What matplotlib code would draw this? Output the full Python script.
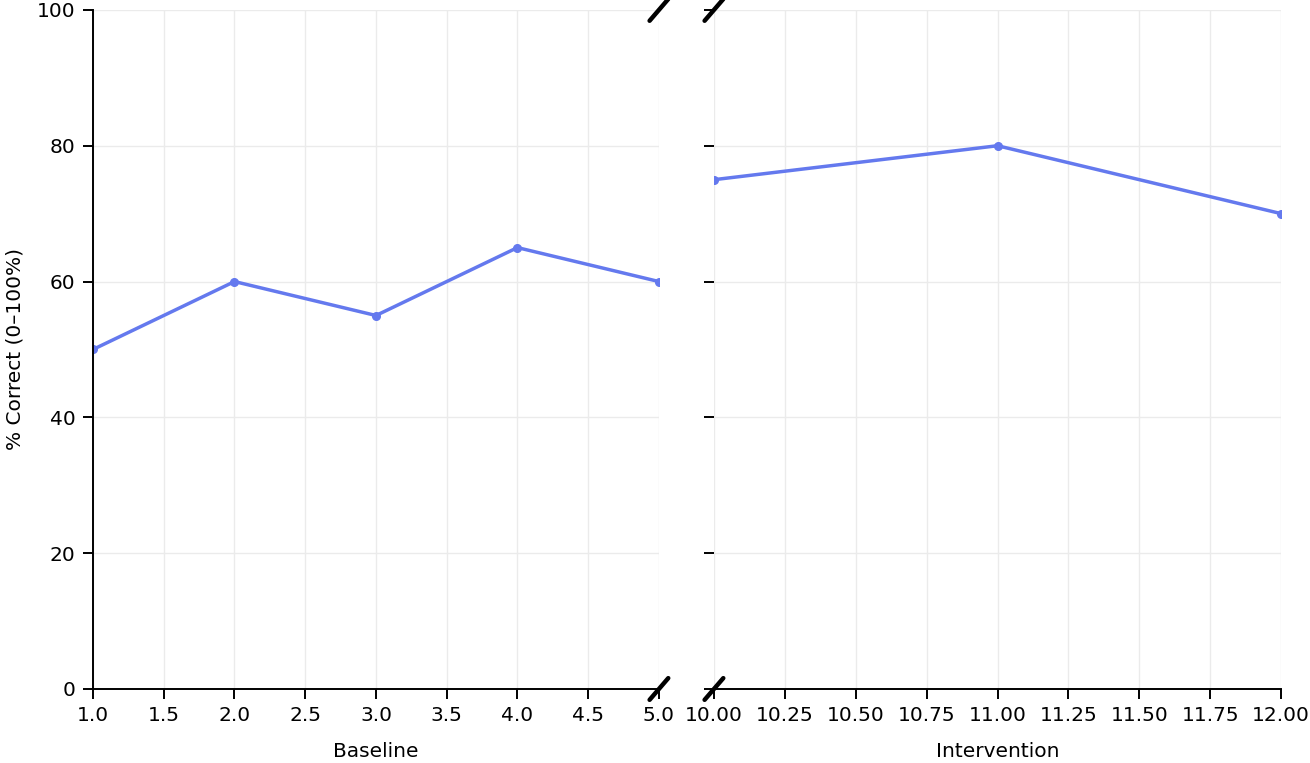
import matplotlib
matplotlib.use("Agg")
import matplotlib.pyplot as plt
import numpy as np

# baseline and intervention sessions
base_x = [1, 2, 3, 4, 5]
base_y = [50, 60, 55, 65, 60]
int_x = [10, 11, 12]
int_y = [75, 80, 70]

line_col = "#6479ee"
grid_col = "#ebebeb"

plt.rcParams["font.family"] = "DejaVu Sans"
plt.rcParams["font.size"] = 14.5

fig = plt.figure(figsize=(13.1, 7.63), dpi=100)
ax1 = fig.add_axes([0.071, 0.097, 0.432, 0.890])
ax2 = fig.add_axes([0.545, 0.097, 0.433, 0.890])

ax1.plot(base_x, base_y, color=line_col, lw=2.5, marker="o", ms=5.5)
ax2.plot(int_x, int_y, color=line_col, lw=2.5, marker="o", ms=5.5)

ax1.set_xlim(1, 5)
ax2.set_xlim(10, 12)
for ax in (ax1, ax2):
    ax.set_ylim(0, 100)
    ax.set_yticks([0, 20, 40, 60, 80, 100])
    ax.grid(True, color=grid_col, lw=1)
    ax.set_axisbelow(True)
    ax.spines["top"].set_visible(False)
    ax.spines["right"].set_visible(False)
    ax.tick_params(length=7.5, width=1.4, pad=5)
    for s in ax.spines.values():
        s.set_linewidth(1.4)

ax1.set_xticks(np.arange(1, 5.01, 0.5))
ax1.set_xticklabels(["%.1f" % v for v in np.arange(1, 5.01, 0.5)])
ax2.set_xticks(np.arange(10, 12.01, 0.25))
ax2.set_xticklabels(["%.2f" % v for v in np.arange(10, 12.01, 0.25)])

ax2.spines["left"].set_visible(False)
ax2.tick_params(axis="y", labelleft=False)

ax1.set_xlabel("Baseline", labelpad=12)
ax2.set_xlabel("Intervention", labelpad=12)
ax1.set_ylabel("% Correct (0\u2013100%)", labelpad=9)

# break marks
dx = 0.0165
dy = 0.016
kw = dict(color="k", lw=3.2, clip_on=False, solid_capstyle="round")
ax1.plot((1 - dx, 1 + dx), (-dy, dy), transform=ax1.transAxes, **kw)
ax1.plot((1 - dx, 1 + dx), (1 - dy, 1 + dy), transform=ax1.transAxes, **kw)
ax2.plot((-dx, dx), (-dy, dy), transform=ax2.transAxes, **kw)
ax2.plot((-dx, dx), (1 - dy, 1 + dy), transform=ax2.transAxes, **kw)

fig.savefig("out.png", dpi=100)
